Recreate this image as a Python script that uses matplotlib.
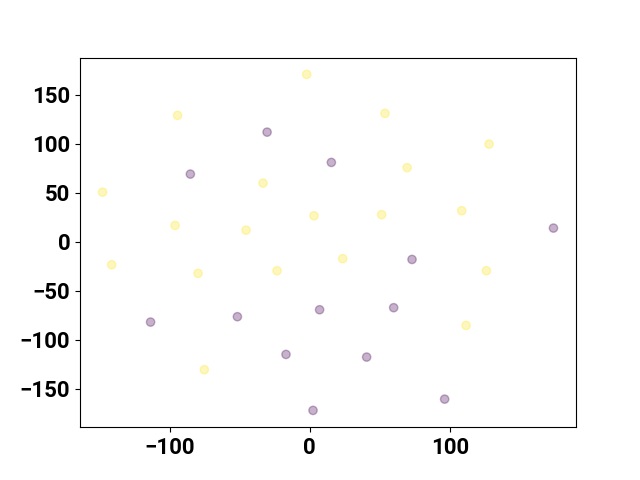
import matplotlib
matplotlib.use("Agg")
import matplotlib.pyplot as plt
import numpy as np

# klasa 1 (zolte punkty)
x_yellow = [-2.1, -94.3, -147.9, -33.3, -96.1, -45.4, 3.1, 53.8, 128.1, 69.6,
            51.4, 108.6, -141.4, -79.7, -23.3, -75.2, 23.6, 126.2, 111.7]
y_yellow = [170.7, 128.9, 50.6, 59.8, 16.6, 11.8, 26.5, 130.9, 99.6, 75.5,
            27.6, 31.6, -23.5, -32.3, -29.6, -130.6, -17.3, -29.6, -85.4]

# klasa 0 (fioletowe punkty)
x_purple = [-30.4, -85.2, 15.5, 174.1, -113.6, -51.6, 7.1, -16.9, 2.4,
            73.1, 60.0, 40.7, 96.4]
y_purple = [111.8, 69.0, 80.9, 13.9, -82.0, -76.5, -69.4, -115.0, -172.1,
            -18.1, -67.3, -117.7, -160.6]

x_tick_values = [-100, 0, 100]

x = np.array(x_purple + x_yellow)
y = np.array(y_purple + y_yellow)
labels = np.array([0] * len(x_purple) + [1] * len(x_yellow))

plt.rcParams["font.family"] = ["Roboto", "DejaVu Sans"]
plt.rcParams["font.weight"] = "bold"

fig = plt.figure(figsize=(6.4, 4.8), dpi=100)
plt.scatter(x, y, c=labels, cmap="viridis", alpha=0.3)
plt.xticks(x_tick_values, fontsize=16, fontweight="bold")
plt.yticks(fontsize=16, fontweight="bold")
plt.savefig("out.png")
